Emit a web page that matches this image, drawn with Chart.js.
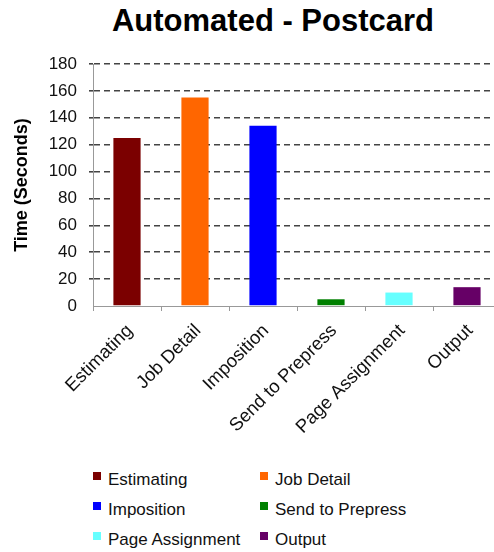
<!DOCTYPE html>
<html>
<head>
<meta charset="utf-8">
<script src="https://cdn.jsdelivr.net/npm/chart.js@4"></script>
<style>
    body { margin: 0; width: 494px; height: 552px; overflow: hidden; background: #fff; position: relative; font-family: "Liberation Sans", Arial, sans-serif; }
    #title { position: absolute; top: 4px; left: 0; width: 546px; text-align: center; font-weight: bold; font-size: 31px; line-height: 34px; color: #000; }
    #wrap { position: absolute; top: 0; left: 0; }
    #legend { position: absolute; top: 470px; left: 93px; }
    .item { position: absolute; white-space: nowrap; font-size: 17px; line-height: 20px; color: #111; }
    .box { position: absolute; left: 0; top: 2px; width: 8px; height: 8px; }
    .lbl { position: absolute; left: 15px; top: 0; }
</style>
</head>
<body>
<div id="title">Automated - Postcard</div>
<div id="wrap"><canvas id="chart" width="502" height="440"></canvas></div>
<div id="legend"></div>
<script>
let categories = ['Estimating', 'Job Detail', 'Imposition', 'Send to Prepress', 'Page Assignment', 'Output'];
let seconds = [125, 155, 134, 5, 10, 14];
let barColors = ['#7b0000', '#ff6600', '#0000ff', '#008000', '#66ffff', '#660066'];
let yMax = 180;
let yStep = 20;

// legend, two columns like the original
let legend = document.getElementById('legend');
categories.forEach((name, i)=>{
    let item = document.createElement('div');
    item.className = 'item';
    item.style.left = (i % 2) * 167 + 'px';
    item.style.top = Math.floor(i / 2) * 30 + 'px';
    item.innerHTML = '<span class="box" style="background:' + barColors[i] + '"></span><span class="lbl">' + name + '</span>';
    legend.appendChild(item);
});

const ctx = document.getElementById('chart').getContext('2d');

new Chart(ctx, {
    type: 'bar',
    data: {
        labels: categories,
        datasets: [{
            label: 'Time (Seconds)',
            data: seconds,
            backgroundColor: barColors,
            barPercentage: 0.4,
            categoryPercentage: 1.0
        }]
    },
    options: {
        responsive: false,
        devicePixelRatio: 1,
        animation: false,
        layout: { padding: { top: 64, left: 11, right: 1, bottom: 0 } },
        plugins: {
            legend: { display: false },
            title: { display: false },
            tooltip: { enabled: false }
        },
        scales: {
            x: {
                afterFit: (scale)=>{ scale.height = 134; },
                grid: { drawOnChartArea: false, color: '#999', tickLength: 5 },
                border: { color: '#999', width: 1 },
                ticks: {
                    color: '#111',
                    minRotation: 45,
                    maxRotation: 45,
                    padding: 9,
                    labelOffset: 3,
                    font: { family: '"Liberation Sans", Arial', size: 18.5 }
                }
            },
            y: {
                min: 0,
                max: yMax,
                afterFit: (scale)=>{ scale.width = 82; },
                grid: {
                    color: (c)=> c.tick && c.tick.value === 0 ? 'rgba(0,0,0,0)' : '#444',
                    lineWidth: 1.6,
                    tickLength: 4
                },
                border: { color: '#999', width: 1, dash: [6, 4] },
                ticks: {
                    stepSize: yStep,
                    color: '#111',
                    padding: 12,
                    font: { family: '"Liberation Sans", Arial', size: 17 }
                },
                title: {
                    display: true,
                    text: 'Time (Seconds)',
                    color: '#000',
                    padding: { top: 0, bottom: 18 },
                    font: { family: '"Liberation Sans", Arial', size: 18, weight: 'bold' }
                }
            }
        }
    }
});
</script>
</body>
</html>
